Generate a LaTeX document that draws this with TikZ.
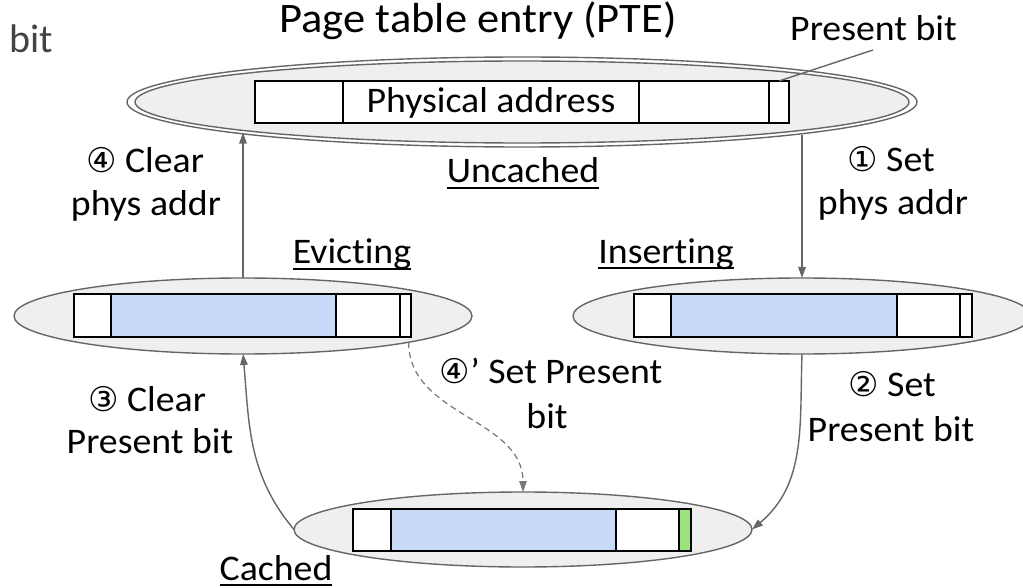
\documentclass[tikz,border=0pt]{standalone}
\usepackage{fontspec}
\setmainfont{Carlito}[FakeStretch=1.05, Ligatures=NoCommon]
\newfontfamily\titlefont{Carlito}[FakeStretch=1.06, Ligatures=NoCommon]
\newfontfamily\plainfont{Carlito}[Ligatures=NoCommon]
\newfontfamily\circfont{DejaVu Sans}
\usetikzlibrary{shapes.geometric,arrows.meta}
\definecolor{stategray}{HTML}{EFEFEF}
\definecolor{edgegray}{HTML}{666666}
\definecolor{dashgray}{HTML}{777777}
\definecolor{fieldblue}{HTML}{C9DAF8}
\definecolor{bitgreen}{HTML}{9AE27B}
\definecolor{textgray}{HTML}{434343}
\newcommand\cnum[1]{{\circfont\fontsize{34}{38}\selectfont #1}}
\begin{document}
\begin{tikzpicture}[x=1pt,y=1pt,
  state/.style={ellipse, draw=edgegray, line width=1.4pt, fill=stategray, inner sep=0pt, outer sep=0pt},
  field/.style={draw=black, line width=1.8pt},
  lbl/.style={anchor=base, inner sep=0pt, outer sep=0pt, font=\fontsize{36}{42}\selectfont},
  trans/.style={draw=edgegray, line width=1.4pt, -{Triangle[length=11pt,width=7.5pt]}},
  ul/.style={draw=black, line width=2.2pt},
]
\useasboundingbox (0,0) rectangle (1023,-588);

% the four states of a page table entry
\node[state, fill=white, minimum width=790pt, minimum height=90pt] (U) at (522,-102) {};
\node[state, minimum width=774pt, minimum height=82pt] (Uin) at (522,-102) {};
\node[state, minimum width=458pt, minimum height=76pt] (E) at (243,-316) {};
\node[state, minimum width=458pt, minimum height=76pt] (I) at (802,-316) {};
\node[state, minimum width=458pt, minimum height=75pt] (C) at (523,-529.5) {};

% PTE fields: uncached
\draw[field, fill=white] (255,-81) rectangle (789,-123);
\draw[field] (343,-81) -- (343,-123) (639,-81) -- (639,-123) (769,-81) -- (769,-123);
\node[lbl] (addr) at (491,-113) {Physical address};

% PTE fields: evicting
\draw[field, fill=white] (74,-294) rectangle (411,-337);
\fill[fieldblue] (111,-294) rectangle (336,-337);
\draw[field] (74,-294) rectangle (411,-337);
\draw[field] (111,-294) -- (111,-337) (336,-294) -- (336,-337) (400,-294) -- (400,-337);

% PTE fields: inserting
\draw[field, fill=white] (634,-294) rectangle (972,-337);
\fill[fieldblue] (671,-294) rectangle (897,-337);
\draw[field] (634,-294) rectangle (972,-337);
\draw[field] (671,-294) -- (671,-337) (897,-294) -- (897,-337) (960,-294) -- (960,-337);

% PTE fields: cached, present bit set
\draw[field, fill=white] (353,-509) rectangle (691,-551);
\fill[fieldblue] (391,-509) rectangle (616,-551);
\fill[bitgreen] (679,-509) rectangle (691,-551);
\draw[field] (353,-509) rectangle (691,-551);
\draw[field] (391,-509) -- (391,-551) (616,-509) -- (616,-551) (679,-509) -- (679,-551);

% transitions
\draw[trans] (E.north) -- (U.186.5 -| E.north);
\draw[trans] (U.353.5 -| I.north) -- (I.north);
\draw[trans] (C.west) to[out=130,in=-85] (E.south);
\draw[trans] (I.south) to[out=-92,in=40] (C.east);
\draw[trans, draw=dashgray, line width=1.2pt, dash pattern=on 6pt off 4pt] (E.-9.65) to[out=-90,in=90] (C.north);

% headings
\node[lbl, font=\fontsize{40}{48}\plainfont, text=textgray] (frag) at (31.5,-53) {bit};
\node[lbl, font=\fontsize{42}{48}\titlefont] (title) at (478,-32.5) {Page table entry (PTE)};
\node[lbl] (pblabel) at (873.5,-40.5) {Present bit};
\coordinate (pbtail) at (873,-50);
\coordinate (pbcell) at (779,-81);
\draw[edgegray, line width=1.4pt] (pbtail) -- (pbcell);

% state names
\node[lbl] (unc) at (523,-183) {Uncached};
\node[lbl] (evi) at (352,-264) {Evicting};
\node[lbl] (ins) at (666,-263) {Inserting};
\node[lbl] (cac) at (276,-580) {Cached};
\foreach \n in {unc,evi,ins,cac}
  \draw[ul] ([yshift=-5pt]\n.base west) -- ([yshift=-5pt]\n.base east);

% transition labels
\node[lbl] (t4a) at (145,-173) {\cnum{④} Clear};
\node[lbl] (t4b) at (146,-216) {phys addr};
\node[lbl] (t1a) at (891,-172) {\cnum{①} Set};
\node[lbl] (t1b) at (893,-215) {phys addr};
\node[lbl] (t3a) at (147,-411) {\cnum{③} Clear};
\node[lbl] (t3b) at (150,-453) {Present bit};
\node[lbl] (t2a) at (892,-396) {\cnum{②} Set};
\node[lbl] (t2b) at (891,-441) {Present bit};
\node[lbl] (t5a) at (551,-383) {\cnum{④}’ Set Present};
\node[lbl] (t5b) at (547,-428) {bit};
\end{tikzpicture}
\end{document}
